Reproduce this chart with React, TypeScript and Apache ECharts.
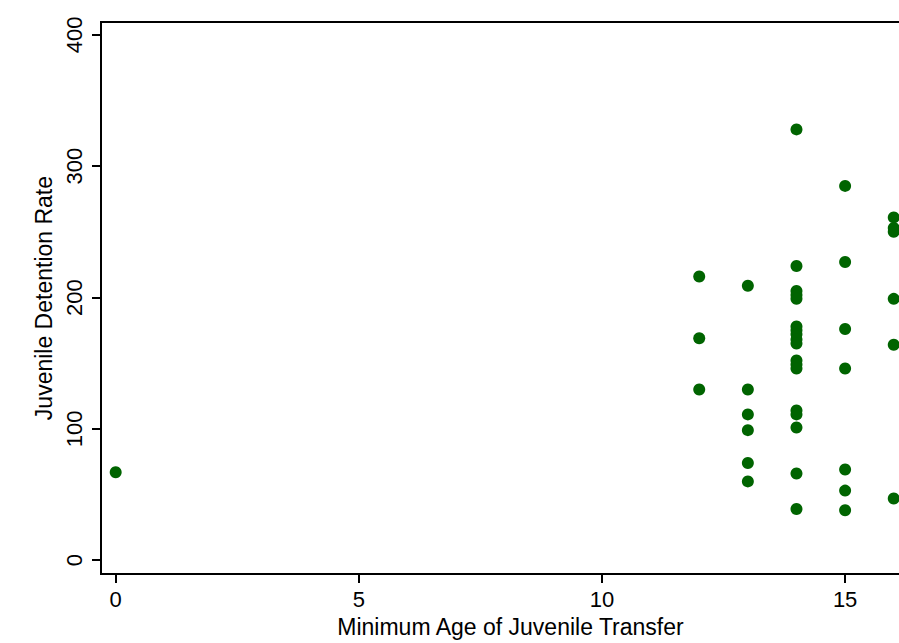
import React, { useEffect, useRef } from "react";
import * as echarts from "echarts";

const xTicks = [0, 5, 10, 15];
const yTicks = [0, 100, 200, 300, 400];

const minAge = [
  0,
  12, 12, 12,
  13, 13, 13, 13, 13, 13,
  14, 14, 14, 14, 14, 14, 14, 14, 14, 14, 14, 14, 14, 14, 14, 14, 14, 14,
  15, 15, 15, 15, 15, 15, 15,
  16, 16, 16, 16, 16, 16,
];
const detentionRate = [
  67,
  216, 169, 130,
  209, 130, 111, 99, 74, 60,
  328, 224, 205, 202, 199, 178, 175, 172, 168, 165, 152, 149, 146, 114, 111, 101, 66, 39,
  285, 227, 176, 146, 69, 53, 38,
  261, 253, 250, 199, 164, 47,
];

const FONT = "'Liberation Sans', Arial, Helvetica, sans-serif";

export default function App() {
  const ref = useRef<HTMLDivElement>(null);
  useEffect(() => {
    if (!ref.current) return;
    const chart = echarts.init(ref.current, null, { renderer: "svg" });
    const points = minAge.map((a, i) => [a, detentionRate[i]]);
    chart.setOption({
      animation: false,
      backgroundColor: "#ffffff",
      grid: {
        left: 101,
        top: 22,
        right: 20,
        bottom: 65,
        show: true,
        borderColor: "#000",
        borderWidth: 2,
        backgroundColor: "transparent",
      },
      xAxis: {
        type: "value",
        min: -0.302,
        max: 16.54,
        name: "Minimum Age of Juvenile Transfer",
        nameLocation: "middle",
        nameGap: 37,
        nameTextStyle: { fontFamily: FONT, fontSize: 23, color: "#000" },
        axisLine: { show: true, onZero: false, lineStyle: { color: "#000", width: 2 } },
        axisTick: {
          show: true,
          length: 9,
          customValues: xTicks,
          lineStyle: { color: "#000", width: 2 },
        },
        axisLabel: {
          customValues: xTicks,
          fontFamily: FONT,
          fontSize: 22,
          color: "#000",
          margin: 14,
        },
        splitLine: { show: false },
      },
      yAxis: {
        type: "value",
        min: -10.6,
        max: 409.8,
        name: "Juvenile Detention Rate",
        nameLocation: "middle",
        nameGap: 43,
        nameRotate: 90,
        nameTextStyle: { fontFamily: FONT, fontSize: 23, color: "#000" },
        axisLine: { show: true, onZero: false, lineStyle: { color: "#000", width: 2 } },
        axisTick: {
          show: true,
          length: 9,
          customValues: yTicks,
          lineStyle: { color: "#000", width: 2 },
        },
        axisLabel: {
          customValues: yTicks,
          rotate: 90,
          fontFamily: FONT,
          fontSize: 22,
          color: "#000",
          margin: 16,
        },
        splitLine: { show: false },
      },
      series: [
        {
          type: "scatter",
          data: points,
          symbol: "circle",
          symbolSize: 12,
          itemStyle: { color: "#006400", opacity: 1 },
          clip: false,
        },
      ],
    });
    return () => chart.dispose();
  }, []);
  return (
    <div
      style={{
        position: "fixed",
        left: 0,
        top: 0,
        width: 899,
        height: 643,
        overflow: "hidden",
        background: "#fff",
      }}
    >
      <div ref={ref} style={{ width: 940, height: 643 }} />
    </div>
  );
}
